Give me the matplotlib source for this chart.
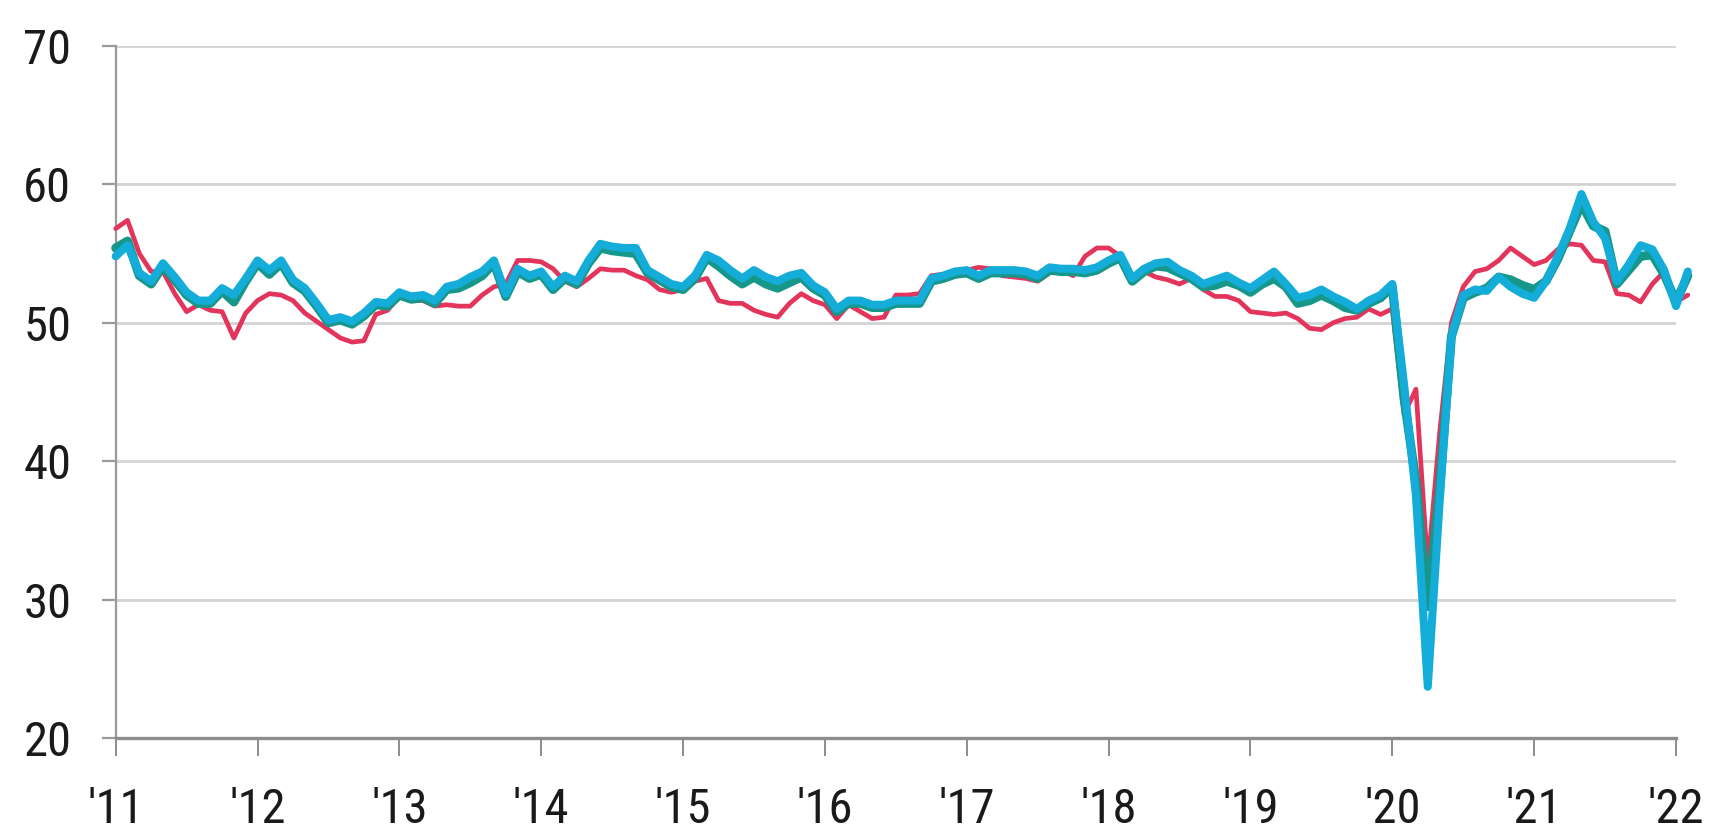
import matplotlib
matplotlib.use("Agg")
import matplotlib.pyplot as plt
import numpy as np
from matplotlib import font_manager

# Monthly data, Jan 2011 .. Feb 2022
start_year = 2011
red = [56.8, 57.4, 55.0, 53.7, 53.7, 52.1, 50.8, 51.3, 50.9, 50.8, 48.9, 50.7,
       51.6, 52.1, 52.0, 51.6, 50.7, 50.1, 49.5, 48.9, 48.6, 48.7, 50.6, 50.9,
       51.9, 51.6, 51.6, 51.2, 51.3, 51.2, 51.2, 52.0, 52.6, 52.8, 54.5, 54.5,
       54.4, 53.9, 53.0, 52.6, 53.2, 53.9, 53.8, 53.8, 53.4, 53.1, 52.4, 52.2,
       52.4, 53.0, 53.2, 51.6, 51.4, 51.4, 50.9, 50.6, 50.4, 51.4, 52.1, 51.6,
       51.3, 50.3, 51.3, 50.8, 50.3, 50.4, 52.0, 52.0, 52.1, 53.4, 53.5, 53.7,
       53.8, 54.0, 53.9, 53.4, 53.3, 53.2, 53.0, 53.6, 53.8, 53.4, 54.8, 55.4,
       55.4, 54.8, 53.4, 53.7, 53.3, 53.1, 52.8, 53.2, 52.4, 51.9, 51.9, 51.6,
       50.8, 50.7, 50.6, 50.7, 50.3, 49.6, 49.5, 50.0, 50.3, 50.4, 51.0, 50.6,
       51.0, 43.4, 45.2, 32.3, 42.0, 50.0, 52.6, 53.7, 53.9, 54.5, 55.4, 54.8,
       54.2, 54.5, 55.3, 55.7, 55.6, 54.5, 54.4, 52.1, 52.0, 51.5, 52.8, 53.7,
       51.5, 52.0]

blue = [54.8, 55.6, 53.6, 53.0, 54.3, 53.3, 52.2, 51.6, 51.6, 52.5, 52.0, 53.2,
        54.5, 53.8, 54.5, 53.1, 52.5, 51.4, 50.2, 50.4, 50.1, 50.7, 51.5, 51.4,
        52.2, 51.9, 52.0, 51.6, 52.6, 52.8, 53.3, 53.7, 54.5, 52.1, 53.9, 53.4,
        53.7, 52.6, 53.4, 53.0, 54.5, 55.7, 55.5, 55.4, 55.4, 53.8, 53.3, 52.8,
        52.6, 53.4, 54.9, 54.5, 53.8, 53.2, 53.8, 53.3, 53.0, 53.4, 53.6, 52.7,
        52.2, 51.0, 51.6, 51.6, 51.3, 51.3, 51.6, 51.6, 51.6, 53.2, 53.4, 53.7,
        53.8, 53.4, 53.8, 53.8, 53.8, 53.7, 53.4, 54.0, 53.9, 53.9, 53.8, 54.0,
        54.5, 54.9, 53.2, 53.9, 54.3, 54.4, 53.8, 53.4, 52.8, 53.1, 53.4, 52.9,
        52.5, 53.1, 53.7, 52.8, 51.8, 52.0, 52.4, 51.9, 51.5, 51.0, 51.6, 52.0,
        52.8, 45.5, 37.5, 23.7, 37.0, 49.0, 52.0, 52.4, 52.3, 53.3, 52.6, 52.1,
        51.8, 53.0, 54.8, 56.8, 59.3, 57.3, 56.1, 53.0, 54.2, 55.6, 55.3, 53.8,
        51.2, 53.7]

green = [55.4, 55.9, 53.4, 52.8, 54.1, 53.1, 52.0, 51.4, 51.4, 52.3, 51.5, 53.0,
         54.3, 53.5, 54.3, 52.9, 52.3, 51.2, 50.0, 50.2, 49.9, 50.5, 51.3, 51.2,
         52.0, 51.7, 51.8, 51.4, 52.4, 52.5, 52.9, 53.4, 54.3, 51.9, 53.7, 53.2,
         53.5, 52.4, 53.2, 52.8, 54.3, 55.4, 55.2, 55.1, 55.0, 53.6, 53.1, 52.6,
         52.4, 53.2, 54.7, 54.1, 53.4, 52.8, 53.3, 52.8, 52.5, 52.9, 53.3, 52.5,
         52.0, 50.8, 51.4, 51.4, 51.1, 51.1, 51.4, 51.4, 51.4, 53.0, 53.2, 53.5,
         53.6, 53.2, 53.6, 53.6, 53.6, 53.5, 53.2, 53.8, 53.7, 53.7, 53.6, 53.8,
         54.3, 54.7, 53.0, 53.7, 54.1, 54.0, 53.6, 53.2, 52.6, 52.7, 53.0, 52.7,
         52.2, 52.8, 53.2, 52.6, 51.4, 51.6, 52.0, 51.6, 51.1, 50.9, 51.4, 51.8,
         52.6, 44.5, 38.5, 29.5, 38.0, 49.0, 51.8, 52.2, 52.5, 53.3, 53.1, 52.7,
         52.4, 53.0, 54.6, 56.6, 58.6, 57.0, 56.6, 52.8, 53.8, 54.8, 54.9, 53.5,
         51.5, 53.4]

year_labels = ["'11", "'12", "'13", "'14", "'15", "'16", "'17", "'18", "'19",
               "'20", "'21", "'22"]
y_ticks = [20, 30, 40, 50, 60, 70]

# font
avail = {f.name for f in font_manager.fontManager.ttflist}
fam = [f for f in ["Liberation Sans Narrow", "Roboto Condensed", "Open Sans Condensed", "Liberation Sans", "DejaVu Sans"] if f in avail]
plt.rcParams['font.family'] = fam

fig = plt.figure(figsize=(17.10, 8.33), dpi=100)
ax = fig.add_axes([115.7 / 1710, 1 - 738 / 833, (1676 - 115.7) / 1710, (738 - 45.9) / 833])

x = np.arange(len(red))
ax.plot(x, red, color="#E3345C", lw=3.4, solid_joinstyle="round", solid_capstyle="round", clip_on=False, zorder=3)
ax.plot(x, green, color="#16978A", lw=6.5, solid_joinstyle="round", solid_capstyle="round", clip_on=False, zorder=4)
ax.plot(x, blue, color="#14ACD8", lw=5.8, solid_joinstyle="round", solid_capstyle="round", clip_on=False, zorder=5)

n_years = len(year_labels)
ax.set_xlim(0, (n_years - 1) * 12)
ax.set_ylim(20, 70)
ax.set_xticks([i * 12 for i in range(n_years)])
ax.set_xticklabels(year_labels)
ax.set_yticks(y_ticks)
ax.set_yticklabels([str(v) for v in y_ticks])

for v in y_ticks[1:]:
    ax.axhline(v, color="#D4D4D4", lw=2.0, zorder=1)

for s in ["top", "right"]:
    ax.spines[s].set_visible(False)
ax.spines["left"].set_color("#9A9A9A")
ax.spines["left"].set_linewidth(1.6)
ax.spines["bottom"].set_color("#8C8C8C")
ax.spines["bottom"].set_linewidth(2.4)

ax.tick_params(axis="y", direction="out", length=10, width=1.6, color="#9A9A9A",
               labelsize=35, pad=22, labelcolor="#1a1a1a")
ax.tick_params(axis="x", direction="out", length=13, width=1.4, color="#8C8C8C",
               labelsize=35, pad=22, labelcolor="#1a1a1a")

fig.savefig("out.png", dpi=100, facecolor="white")
